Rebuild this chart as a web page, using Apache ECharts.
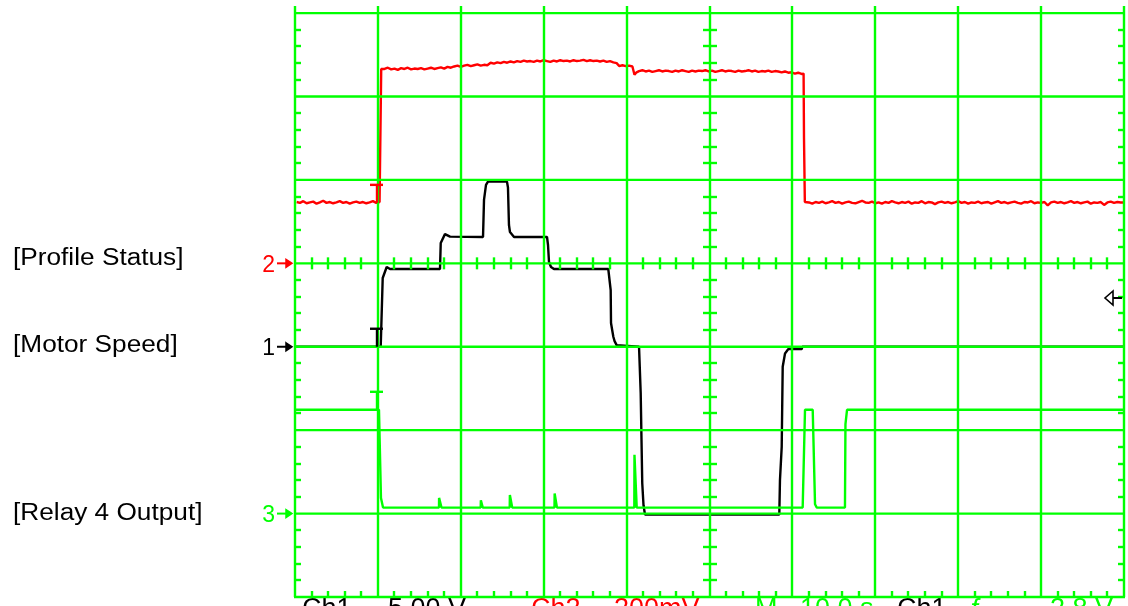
<!DOCTYPE html>
<html>
<head>
<meta charset="utf-8">
<script src="https://cdn.jsdelivr.net/npm/echarts@6/dist/echarts.min.js"></script>
<style>
  html, body { margin: 0; padding: 0; background: #ffffff; }
  #chart { width: 1128px; height: 606px; }
</style>
</head>
<body>
<div id="chart"></div>
<script>
// ---- Acquisition settings -------------------------------------------------
const SECONDS_PER_DIV = 10;          // M 10.0 s
const H_DIVS = 10;
const V_DIV_MIN = -4;                // screen bottom, in divisions from centre
const V_DIV_TOP_LINE = 3;            // last graticule line shown
const V_DIV_MAX = 3.085;             // top edge of the capture
const TRIGGER_TIME_S = 10;
const TRIGGER_LEVEL_V = 2.8;         // Ch1 trigger level

// channel scaling: volts (or mV) per division and ground marker position
const CH1_VOLTS_PER_DIV = 5;   const CH1_OFFSET_DIV = -1;   // Motor Speed
const CH2_MV_PER_DIV = 200;    const CH2_OFFSET_DIV = 0;    // Profile Status
const CH3_VOLTS_PER_DIV = 5;   const CH3_OFFSET_DIV = -3;   // Relay 4 Output

// ---- Recorded traces: [time s, value] -------------------------------------
const PROFILE_STATUS_MV = [
  [0.2,147],[0.6,145],[1.0,149],[1.4,144],[1.8,146],[2.2,148],[2.6,143],[3.0,146],[3.4,150],[3.8,145],
  [4.2,147],[4.6,144],[5.0,146],[5.4,149],[5.8,145],[6.2,147],[6.6,143],[7.0,146],[7.4,148],[7.8,145],
  [8.2,147],[8.6,144],[9.0,146],[9.4,149],[9.8,145],[10.2,147],
  [10.3,147],[10.4,466],
  [10.8,466],[11.2,469],[11.6,465],[12.0,467],[12.4,464],[12.8,468],[13.2,466],[13.6,469],[14.0,465],[14.4,467],
  [14.8,466],[15.2,468],[15.6,465],[16.0,467],[16.4,469],[16.8,466],[17.2,468],[17.6,470],[18.0,467],[18.4,471],
  [18.8,469],[19.2,472],[19.6,474],[20.0,471],
  [20.4,474],[20.8,476],[21.2,473],[21.6,475],[22.0,477],[22.4,474],[22.8,476],[23.2,475],
  [23.6,481],[24.0,479],[24.4,482],[24.8,480],[25.2,483],[25.6,481],[26.0,484],[26.4,482],[26.8,485],[27.2,483],
  [27.6,486],[28.0,484],[28.4,485],[28.8,483],[29.2,486],[29.6,484],[30.0,487],[30.4,485],[30.8,483],[31.2,486],
  [31.6,484],[32.0,487],[32.4,485],[32.8,486],[33.2,484],[33.6,487],[34.0,485],[34.4,486],[34.8,488],[35.2,485],
  [35.6,487],[36.0,485],[36.4,486],[36.8,484],[37.2,486],[37.6,483],[38.0,485],[38.4,482],[38.8,480],
  [39.1,473],[39.5,475],[39.9,473],[40.3,474],[40.7,472],[40.95,452],[41.2,458],[41.5,461],
  [41.9,463],[42.3,460],[42.7,462],[43.1,459],[43.5,461],[43.9,463],[44.3,460],[44.7,462],[45.1,461],[45.5,459],
  [45.9,462],[46.3,460],[46.7,463],[47.1,461],[47.5,459],[47.9,462],[48.3,460],[48.7,462],[49.1,461],[49.5,463],
  [49.9,460],[50.3,462],[50.7,459],[51.1,461],[51.5,463],[51.9,460],[52.3,462],[52.7,461],[53.1,459],[53.5,462],
  [53.9,460],[54.3,461],[54.7,463],[55.1,460],[55.5,462],[55.9,459],[56.3,461],[56.7,460],[57.1,462],[57.5,459],
  [57.9,461],[58.3,460],[58.7,458],[59.1,460],[59.5,457],[59.9,458],[60.3,455],[60.7,457],[61.1,454],
  [61.35,455],[61.4,300],[61.5,147],
  [62.0,146],[62.4,143],[62.8,147],[63.2,145],[63.6,148],[64.0,144],[64.4,146],[64.8,149],[65.2,145],[65.6,147],
  [66.0,143],[66.4,146],[66.8,148],[67.2,145],[67.6,144],[68.0,147],[68.4,150],[68.8,146],[69.2,145],[69.6,148],
  [70.0,144],[70.4,146],[70.8,143],[71.2,147],[71.6,145],[72.0,149],[72.4,146],[72.8,144],[73.2,147],[73.6,145],
  [74.0,148],[74.4,143],[74.8,146],[75.2,145],[75.6,149],[76.0,144],[76.4,147],[76.8,146],[77.2,142],[77.6,146],
  [78.0,148],[78.4,145],[78.8,147],[79.2,144],[79.6,146],[80.0,149],[80.4,145],[80.8,147],[81.2,143],[81.6,146],
  [82.0,145],[82.4,148],[82.8,144],[83.2,146],[83.6,147],[84.0,143],[84.4,146],[84.8,149],[85.2,145],[85.6,147],
  [86.0,144],[86.4,146],[86.8,148],[87.2,145],[87.6,143],[88.0,147],[88.4,146],[88.8,149],[89.2,144],[89.6,146],
  [90.0,145],[90.4,147],[90.8,139],[91.2,146],[91.6,148],[92.0,145],[92.4,147],[92.8,144],[93.2,146],[93.6,149],
  [94.0,145],[94.4,147],[94.8,144],[95.2,146],[95.6,148],[96.0,143],[96.4,146],[96.8,145],[97.2,147],[97.6,140],
  [98.0,146],[98.4,148],[98.8,145],[99.2,147],[99.6,146],[100,146]
];

const MOTOR_SPEED_V = [
  [0,0],[10.34,0],[10.58,4.12],[11.06,4.78],[11.46,4.66],[17.49,4.66],[17.58,6.22],[18.09,6.75],[18.7,6.6],
  [22.68,6.58],[22.8,8.8],[23.04,9.7],[23.28,9.9],[25.57,9.9],[25.69,9.55],[25.81,7.3],[25.93,6.88],[26.42,6.58],
  [30.4,6.58],[30.52,6.1],[30.64,5.08],[30.88,4.78],[31.24,4.66],[37.79,4.66],[38.08,3.4],[38.12,1.42],
  [38.26,1.0],[38.4,0.6],[38.55,0.34],[38.8,0.1],[38.9,0],[41.5,0],[41.7,-2.78],[41.89,-8.2],[42.04,-9.5],
  [42.22,-10.06],[58.42,-10.06],[58.5,-8.0],[58.71,-6.0],[58.83,-1.2],[59.11,-0.4],[59.51,-0.14],[61.12,-0.14],
  [61.2,0],[100,0]
];

const RELAY_4_OUTPUT_V = [
  [0,6.22],[10.13,6.22],[10.37,0.94],[10.62,0.36],[17.37,0.36],[17.38,0.94],[17.67,0.36],
  [22.4,0.36],[22.42,0.8],[22.65,0.36],[25.9,0.36],[25.92,1.12],[26.2,0.36],[31.3,0.36],[31.32,1.2],[31.6,0.36],
  [40.93,0.36],[40.95,3.52],[41.22,0.36],[61.24,0.36],[61.52,6.22],[62.45,6.22],[62.73,0.56],[62.93,0.36],
  [66.34,0.36],[66.4,5.36],[66.59,6.22],[100,6.22]
];

// ---- Colours, fonts, strokes ----------------------------------------------
const GRID_GREEN = '#00ff00';
const CH1_COLOR = '#000000';
const CH2_COLOR = '#ff0000';
const CH3_COLOR = '#00ff00';
const FONT = '"Liberation Sans", Arial, Helvetica, sans-serif';
const STROKE = 2.4;

// convert each channel's readings to screen divisions
const toDiv = (rows, perDiv, offset) => rows.map(([t, v]) => [t, offset + v / perDiv]);
const ch2Trace = toDiv(PROFILE_STATUS_MV, CH2_MV_PER_DIV, CH2_OFFSET_DIV);
const ch1Trace = toDiv(MOTOR_SPEED_V, CH1_VOLTS_PER_DIV, CH1_OFFSET_DIV);
const ch3Trace = toDiv(RELAY_4_OUTPUT_V, CH3_VOLTS_PER_DIV, CH3_OFFSET_DIV);

const valueAt = (trace, t) => {
  let best = trace[0];
  for (const p of trace) { if (p[0] <= t) best = p; }
  return best[1];
};

const CHANNEL_MARKERS = [
  { label: '2', offset: CH2_OFFSET_DIV, color: CH2_COLOR },
  { label: '1', offset: CH1_OFFSET_DIV, color: CH1_COLOR },
  { label: '3', offset: CH3_OFFSET_DIV, color: CH3_COLOR }
];

const TRIGGER_MARKS = [
  { div: valueAt(ch2Trace, TRIGGER_TIME_S), color: CH2_COLOR },
  { div: valueAt(ch1Trace, TRIGGER_TIME_S), color: CH1_COLOR },
  { div: valueAt(ch3Trace, TRIGGER_TIME_S), color: CH3_COLOR }
];

// ---- Graticule: divisions, border ticks and centre-line ticks --------------
function renderGraticule(params, api) {
  const children = [];
  const style = { stroke: GRID_GREEN, lineWidth: STROKE };
  const seg = (x1, y1, x2, y2) => children.push({
    type: 'line', shape: { x1, y1, x2, y2 }, style
  });
  const tMax = H_DIVS * SECONDS_PER_DIV;
  const tMid = tMax / 2;
  for (let i = 0; i <= H_DIVS; i++) {
    const a = api.coord([i * SECONDS_PER_DIV, V_DIV_MAX]);
    const b = api.coord([i * SECONDS_PER_DIV, V_DIV_MIN]);
    const x = Math.round(a[0]);
    seg(x, a[1], x, b[1]);
  }
  // horizontal lines sit exactly where the traces' ground levels are drawn
  for (let j = V_DIV_MIN; j <= V_DIV_TOP_LINE; j++) {
    const a = api.coord([0, j]);
    const b = api.coord([tMax, j]);
    seg(a[0] - 1, a[1], b[0] + 1, b[1]);
  }
  // minor ticks every fifth of a division
  const left = api.coord([0, 0])[0];
  const right = api.coord([tMax, 0])[0];
  const midX = Math.round(api.coord([tMid, 0])[0]);
  const midY = api.coord([0, 0])[1];
  const bottom = api.coord([0, V_DIV_MIN])[1];
  for (let k = 1; k < (V_DIV_TOP_LINE - V_DIV_MIN) * 5; k++) {
    if (k % 5 === 0) continue;
    const y = Math.round(api.coord([0, V_DIV_MIN + k / 5])[1]);
    seg(left, y, left + 6, y);
    seg(right - 6, y, right, y);
    seg(midX - 7, y, midX + 7, y);
  }
  for (let m = 1; m < H_DIVS * 5; m++) {
    if (m % 5 === 0) continue;
    const x = Math.round(api.coord([m * SECONDS_PER_DIV / 5, 0])[0]);
    seg(x, bottom - 6, x, bottom);
    seg(x, midY - 6, x, midY + 6);
  }
  return { type: 'group', children };
}

// ground reference arrows on the left edge ("2→", "1→", "3→")
function renderChannelMarker(params, api) {
  const m = CHANNEL_MARKERS[params.dataIndex];
  const p = api.coord([0, api.value(1)]);
  const x = p[0], y = p[1];
  return {
    type: 'group',
    children: [
      { type: 'text', x: x - 20, y: y + 2,
        style: { text: m.label, fill: m.color, font: '23px ' + FONT,
                 align: 'right', verticalAlign: 'middle', textAlign: 'right', textVerticalAlign: 'middle' } },
      { type: 'line', shape: { x1: x - 18, y1: y, x2: x - 9, y2: y },
        style: { stroke: m.color, lineWidth: 2 } },
      { type: 'polygon', shape: { points: [[x - 9, y - 4], [x - 3, y], [x - 9, y + 4]] },
        style: { stroke: m.color, fill: m.color, lineWidth: 1.5 } }
    ]
  };
}

// trigger point "T" marks on each trace
function renderTriggerMark(params, api) {
  const m = TRIGGER_MARKS[params.dataIndex];
  const p = api.coord([api.value(0), api.value(1)]);
  const x = Math.round(p[0]) - 1, y = p[1];
  const st = { stroke: m.color, lineWidth: STROKE };
  return {
    type: 'group',
    children: [
      { type: 'line', shape: { x1: x - 7, y1: y - 18, x2: x + 6, y2: y - 18 }, style: st },
      { type: 'line', shape: { x1: x, y1: y - 18, x2: x, y2: y }, style: st }
    ]
  };
}

// trigger level arrow on the right edge
function renderTriggerLevel(params, api) {
  const p = api.coord([api.value(0), api.value(1)]);
  const x = p[0], y = Math.round(p[1]) - 2;
  const st = { stroke: CH1_COLOR, lineWidth: 1.6, fill: null };
  return {
    type: 'group',
    children: [
      { type: 'polygon', shape: { points: [[x - 11, y - 7], [x - 19, y], [x - 11, y + 7]] }, style: st },
      { type: 'line', shape: { x1: x - 11, y1: y, x2: x - 2, y2: y }, style: { stroke: CH1_COLOR, lineWidth: 2 } }
    ]
  };
}

const traceSeries = (name, data, color) => ({
  name, type: 'line', data, z: 2,
  showSymbol: false, symbol: 'none', smooth: false, silent: true,
  lineStyle: { color, width: STROKE }
});

const labelText = (text, y) => ({
  type: 'text', x: 13, y, scaleX: 1.14,
  style: { text, fill: '#000', font: '23px ' + FONT, x: 0, y: 0,
           verticalAlign: 'middle', textVerticalAlign: 'middle' }
});

const readout = (text, x, color) => ({
  type: 'text', x, y: 610,
  style: { text, fill: color, font: '27px ' + FONT, x: 0, y: 0,
           verticalAlign: 'middle', textVerticalAlign: 'middle' }
});

const chart = echarts.init(document.getElementById('chart'), null, { renderer: 'canvas' });
chart.setOption({
  animation: false,
  backgroundColor: '#ffffff',
  grid: { left: 295, right: 4, top: 6, bottom: 9, containLabel: false },
  xAxis: { type: 'value', min: 0, max: H_DIVS * SECONDS_PER_DIV, show: false },
  yAxis: { type: 'value', min: V_DIV_MIN, max: V_DIV_MAX, show: false },
  series: [
    traceSeries('Profile Status', ch2Trace, CH2_COLOR),
    traceSeries('Motor Speed', ch1Trace, CH1_COLOR),
    traceSeries('Relay 4 Output', ch3Trace, CH3_COLOR),
    { type: 'custom', name: 'graticule', data: [[0, 0]], renderItem: renderGraticule, z: 3, silent: true, clip: false },
    { type: 'custom', name: 'channels', data: CHANNEL_MARKERS.map(m => [0, m.offset]),
      renderItem: renderChannelMarker, z: 4, silent: true, clip: false },
    { type: 'custom', name: 'trigger', data: TRIGGER_MARKS.map(m => [TRIGGER_TIME_S, m.div]),
      renderItem: renderTriggerMark, z: 4, silent: true, clip: false },
    { type: 'custom', name: 'trigger level',
      data: [[H_DIVS * SECONDS_PER_DIV, CH1_OFFSET_DIV + TRIGGER_LEVEL_V / CH1_VOLTS_PER_DIV]],
      renderItem: renderTriggerLevel, z: 4, silent: true, clip: false }
  ],
  graphic: [
    labelText('[Profile Status]', 259),
    labelText('[Motor Speed]', 346),
    labelText('[Relay 4 Output]', 514),
    readout('Ch1', 302, '#000000'),
    readout('5.00 V', 388, '#000000'),
    readout('Ch2', 531, CH2_COLOR),
    readout('200mV', 614, CH2_COLOR),
    readout('M', 755, GRID_GREEN),
    readout('10.0 s', 800, GRID_GREEN),
    readout('Ch1', 897, '#000000'),
    readout('ƒ', 968, GRID_GREEN),
    readout('2.8 V', 1050, GRID_GREEN)
  ]
});
</script>
</body>
</html>
